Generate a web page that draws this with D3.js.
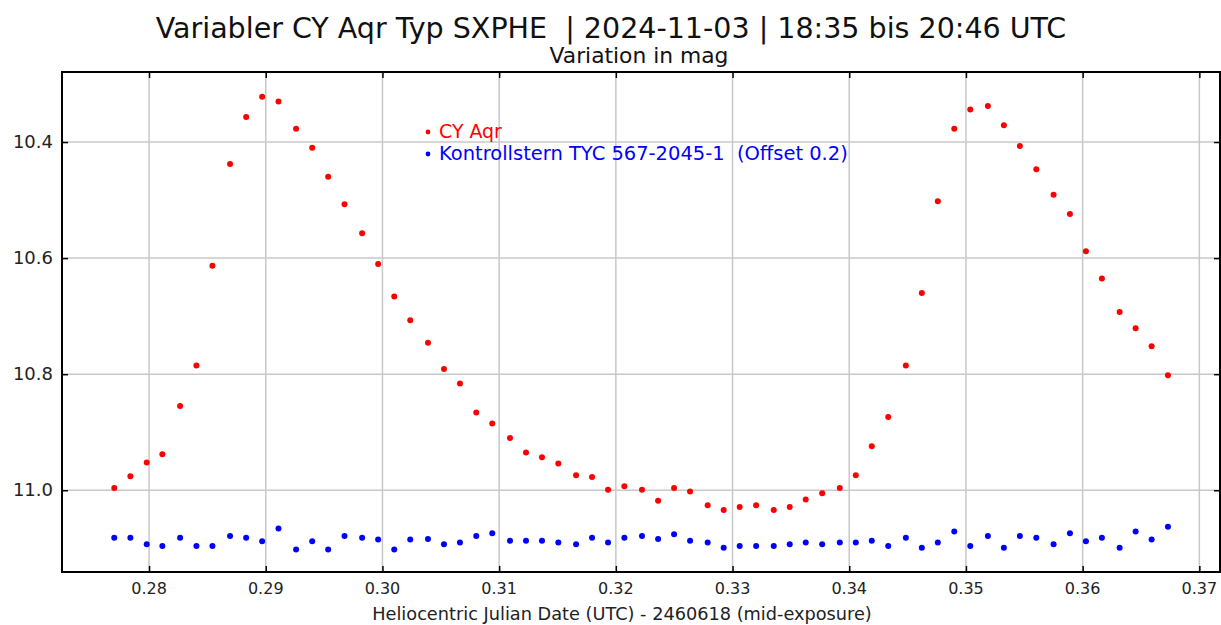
<!DOCTYPE html>
<html>
<head>
<meta charset="utf-8">
<script src="https://cdn.jsdelivr.net/npm/d3@7"></script>
<style>
html,body{margin:0;padding:0;background:#fff;}
svg{display:block;}
text{font-family:"Lucida Grande","DejaVu Sans",sans-serif;}
</style>
</head>
<body>
<svg id="chart" width="1221" height="625"></svg>
<script>
// ---- data ----
const hjd = [0.27702,0.27840,0.27980,0.28114,0.28266,0.28406,0.28543,0.28694,0.28832,0.28969,
0.29109,0.29260,0.29398,0.29535,0.29675,0.29826,0.29963,0.30101,0.30238,0.30390,
0.30527,0.30664,0.30804,0.30941,0.31093,0.31230,0.31367,0.31507,0.31659,0.31796,
0.31933,0.32073,0.32224,0.32362,0.32499,0.32636,0.32787,0.32924,0.33061,0.33202,
0.33353,0.33490,0.33627,0.33768,0.33919,0.34056,0.34193,0.34334,0.34485,0.34622,
0.34759,0.34900,0.35037,0.35188,0.35325,0.35462,0.35603,0.35751,0.35891,0.36028,
0.36165,0.36317,0.36454,0.36591,0.36731];
const varMag = [10.996,10.976,10.952,10.938,10.855,10.785,10.613,10.438,10.357,10.322,
10.330,10.377,10.410,10.460,10.507,10.557,10.610,10.666,10.707,10.746,
10.791,10.816,10.866,10.885,10.910,10.935,10.943,10.954,10.974,10.977,
10.999,10.993,10.999,11.018,10.996,11.002,11.026,11.034,11.029,11.026,
11.034,11.029,11.016,11.005,10.996,10.974,10.924,10.874,10.785,10.660,
10.502,10.377,10.344,10.338,10.371,10.407,10.447,10.491,10.524,10.588,
10.635,10.693,10.721,10.752,10.802];
// check star, plotted with offset 0.2 already applied
const checkMag = [11.082,11.082,11.093,11.096,11.082,11.096,11.096,11.079,11.082,11.088,
11.066,11.102,11.088,11.102,11.079,11.082,11.085,11.102,11.085,11.084,
11.093,11.090,11.079,11.074,11.087,11.087,11.087,11.090,11.093,11.082,
11.090,11.082,11.079,11.084,11.076,11.087,11.090,11.099,11.096,11.096,
11.096,11.093,11.090,11.093,11.090,11.090,11.087,11.096,11.082,11.099,
11.090,11.071,11.096,11.079,11.099,11.079,11.082,11.093,11.074,11.088,
11.082,11.099,11.071,11.085,11.063];
const xTicks = [0.28,0.29,0.30,0.31,0.32,0.33,0.34,0.35,0.36,0.37];
const yTicks = [10.4,10.6,10.8,11.0];
const seriesNames = ["CY Aqr","Kontrollstern TYC 567-2045-1  (Offset 0.2)"];
const seriesColors = ["#ff0000","#0000ff"];
const titleText = "Variabler CY Aqr Typ SXPHE  | 2024-11-03 | 18:35 bis 20:46 UTC";
const subtitleText = "Variation in mag";
const xLabelText = "Heliocentric Julian Date (UTC) - 2460618 (mid-exposure)";

// ---- layout ----
const L = 62, R = 1220, T = 72, B = 572;
const svg = d3.select("#chart");
const x = d3.scaleLinear().domain([0.27254, 0.37177]).range([L, R]);
const y = d3.scaleLinear().domain([10.2793, 11.1409]).range([T, B]);

function fit(sel, target) {
  const n = sel.node();
  const w = n.getComputedTextLength();
  const fs = parseFloat(sel.attr("font-size"));
  sel.attr("font-size", (fs * target / w).toFixed(2));
}

// grid
const grid = svg.append("g");
grid.selectAll("line.vx").data(xTicks).enter().append("line")
  .attr("x1", d => x(d)).attr("x2", d => x(d)).attr("y1", T).attr("y2", B)
  .attr("stroke", "#c8c8c8").attr("stroke-width", 1.5);
grid.selectAll("line.hy").data(yTicks).enter().append("line")
  .attr("x1", L).attr("x2", R).attr("y1", d => y(d)).attr("y2", d => y(d))
  .attr("stroke", "#c8c8c8").attr("stroke-width", 1.5);

// axes with inward ticks
const axB = svg.append("g").attr("transform", `translate(0,${B})`)
  .call(d3.axisTop(x).tickValues(xTicks).tickSize(6).tickFormat(""));
const axT = svg.append("g").attr("transform", `translate(0,${T})`)
  .call(d3.axisBottom(x).tickValues(xTicks).tickSize(6).tickFormat(""));
const axL = svg.append("g").attr("transform", `translate(${L},0)`)
  .call(d3.axisRight(y).tickValues(yTicks).tickSize(6).tickFormat(""));
const axR = svg.append("g").attr("transform", `translate(${R},0)`)
  .call(d3.axisLeft(y).tickValues(yTicks).tickSize(6).tickFormat(""));
[axB, axT, axL, axR].forEach(a => {
  a.select(".domain").remove();
  a.selectAll(".tick line").attr("stroke", "#000").attr("stroke-width", 1.5);
});
svg.append("rect").attr("x", L).attr("y", T).attr("width", R - L).attr("height", B - T)
  .attr("fill", "none").attr("stroke", "#000").attr("stroke-width", 2);

// tick labels
svg.append("g").selectAll("text").data(xTicks).enter().append("text")
  .attr("x", d => x(d)).attr("y", 594).attr("text-anchor", "middle")
  .attr("font-size", 16).attr("fill", "#222").text(d => d3.format(".2f")(d));
svg.append("g").selectAll("text").data(yTicks).enter().append("text")
  .attr("x", 53).attr("y", d => y(d) + 6).attr("text-anchor", "end")
  .attr("font-size", 18).attr("fill", "#222").text(d => d3.format(".1f")(d));

// points
const ptsV = hjd.map((h, i) => ({h, m: varMag[i]}));
const ptsC = hjd.map((h, i) => ({h, m: checkMag[i]}));
svg.append("g").selectAll("circle").data(ptsV).enter().append("circle")
  .attr("cx", d => x(d.h)).attr("cy", d => y(d.m)).attr("r", 3).attr("fill", seriesColors[0]);
svg.append("g").selectAll("circle").data(ptsC).enter().append("circle")
  .attr("cx", d => x(d.h)).attr("cy", d => y(d.m)).attr("r", 3).attr("fill", seriesColors[1]);

// legend
const legY = [132, 154];
const leg = svg.append("g");
seriesNames.forEach((nm, i) => {
  leg.append("circle").attr("cx", 428).attr("cy", legY[i]).attr("r", 2.4).attr("fill", seriesColors[i]);
  const t = leg.append("text").attr("x", 439).attr("y", legY[i] + 6).attr("font-size", 17)
    .attr("fill", seriesColors[i]).attr("xml:space", "preserve").style("white-space", "pre").text(nm);
  fit(t, i === 0 ? 63 : 409);
});

// titles
const tt = svg.append("text").attr("x", 611).attr("y", 38).attr("text-anchor", "middle")
  .attr("font-size", 30).attr("fill", "#111").style("white-space", "pre").text(titleText);
fit(tt, 911);
const st = svg.append("text").attr("x", 639).attr("y", 63).attr("text-anchor", "middle")
  .attr("font-size", 20).attr("fill", "#111").text(subtitleText);
fit(st, 179);
const xl = svg.append("text").attr("x", 622).attr("y", 620).attr("text-anchor", "middle")
  .attr("font-size", 18).attr("fill", "#222").text(xLabelText);
fit(xl, 500);
</script>
</body>
</html>
